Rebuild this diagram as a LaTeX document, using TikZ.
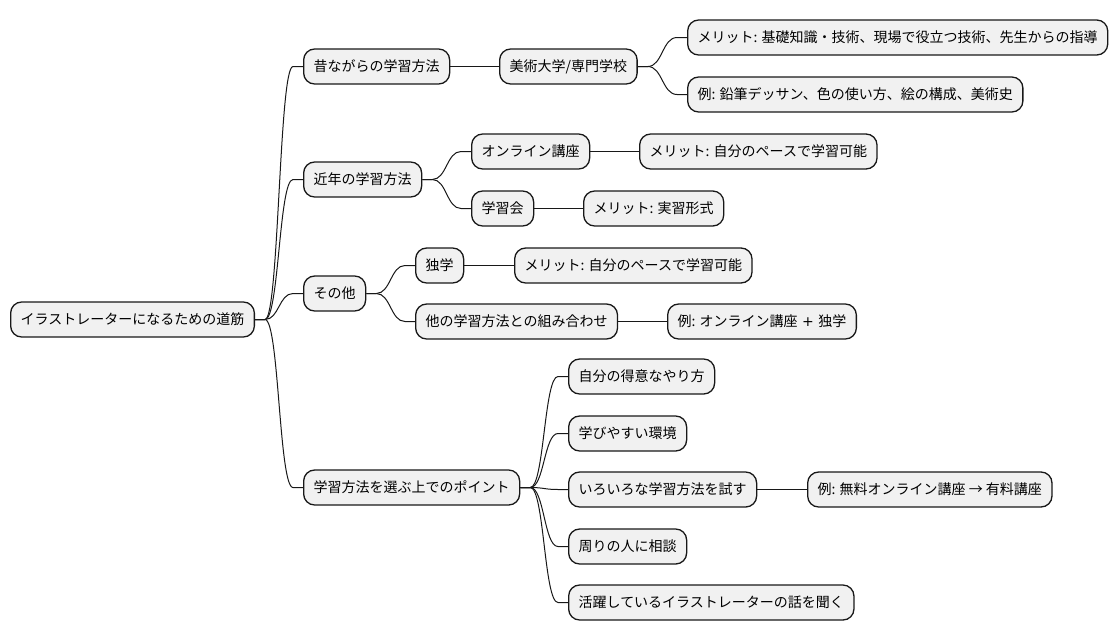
\documentclass[tikz,border=0pt]{standalone}
\usepackage{fontspec}
\setmainfont{Noto Sans CJK JP}
\newfontfamily\latfont{DejaVu Sans}
\usetikzlibrary{calc}
\definecolor{boxfill}{HTML}{F1F1F1}
\definecolor{ink}{HTML}{181818}
\tikzset{
  mmbox/.style={draw=ink, fill=boxfill, line width=1.3pt, rounded corners=11pt,
    minimum height=35pt, inner xsep=10pt, inner ysep=0pt, anchor=west,
    font=\fontsize{14pt}{17pt}\selectfont, text=black},
  link/.style={draw=ink, line width=1pt}
}
\newcommand\mmlink[2]{\draw[link] let \p1=(#1.east), \p2=(#2.west) in
  (\p1) -- ({\x1+10pt},\y1) .. controls ({(\x1+\x2)/2},\y1) and ({(\x1+\x2)/2},\y2) .. ({\x2-10pt},\y2) -- (\p2);}
\begin{document}
\begin{tikzpicture}[x=1pt,y=-1pt]
\useasboundingbox (0,0) rectangle (1118,640);
\node[mmbox] (root) at (10,319.5) {イラストレーターになるための道筋};
\node[mmbox] (a) at (303,66.5) {昔ながらの学習方法};
\node[mmbox] (a1) at (499,66.5) {美術大学/専門学校};
\node[mmbox] (a1a) at (687,37.5) {メリット: 基礎知識・技術、現場で役立つ技術、先生からの指導};
\node[mmbox] (a1b) at (687,94.5) {例: 鉛筆デッサン、色の使い方、絵の構成、美術史};
\node[mmbox] (b) at (303,179.5) {近年の学習方法};
\node[mmbox] (b1) at (471,151.5) {オンライン講座};
\node[mmbox] (b1a) at (639,151.5) {メリット: 自分のペースで学習可能};
\node[mmbox] (b2) at (471,208.5) {学習会};
\node[mmbox] (b2a) at (583,208.5) {メリット: 実習形式};
\node[mmbox] (c) at (303,293.5) {その他};
\node[mmbox] (c1) at (415,265.5) {独学};
\node[mmbox] (c1a) at (514,265.5) {メリット: 自分のペースで学習可能};
\node[mmbox] (c2) at (415,321.5) {他の学習方法との組み合わせ};
\node[mmbox] (c2a) at (667,321.5) {例: オンライン講座{\latfont\ +\ }独学};
\node[mmbox] (d) at (303,487.5) {学習方法を選ぶ上でのポイント};
\node[mmbox] (d1) at (568,376.5) {自分の得意なやり方};
\node[mmbox] (d2) at (568,433.5) {学びやすい環境};
\node[mmbox] (d3) at (568,489.5) {いろいろな学習方法を試す};
\node[mmbox] (d3a) at (807,489.5) {例: 無料オンライン講座 → 有料講座};
\node[mmbox] (d4) at (568,546.5) {周りの人に相談};
\node[mmbox] (d5) at (568,602.5) {活躍しているイラストレーターの話を聞く};
\mmlink{root}{a}
\mmlink{root}{b}
\mmlink{root}{c}
\mmlink{root}{d}
\mmlink{a}{a1}
\mmlink{a1}{a1a}
\mmlink{a1}{a1b}
\mmlink{b}{b1}
\mmlink{b}{b2}
\mmlink{b1}{b1a}
\mmlink{b2}{b2a}
\mmlink{c}{c1}
\mmlink{c}{c2}
\mmlink{c1}{c1a}
\mmlink{c2}{c2a}
\mmlink{d}{d1}
\mmlink{d}{d2}
\mmlink{d}{d3}
\mmlink{d}{d4}
\mmlink{d}{d5}
\mmlink{d3}{d3a}
\end{tikzpicture}
\end{document}
